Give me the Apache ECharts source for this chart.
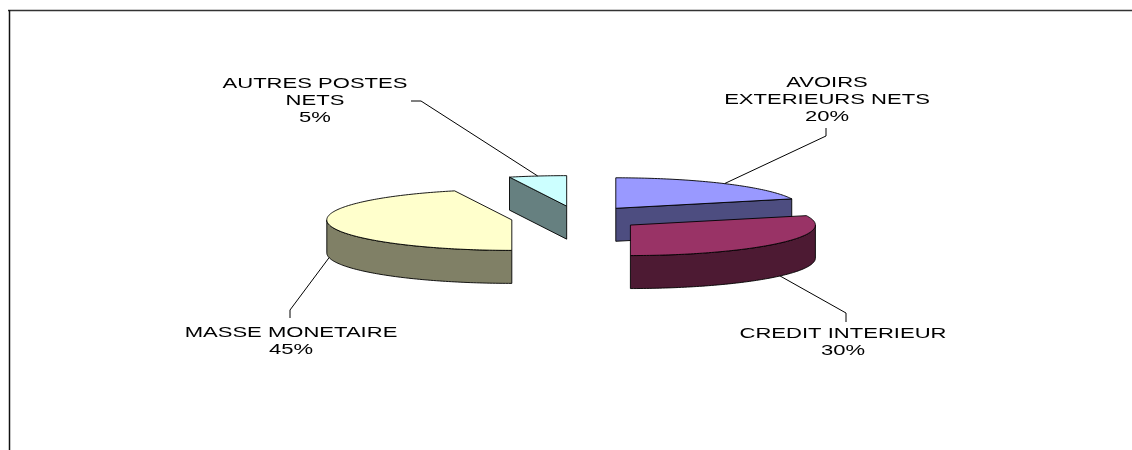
<!DOCTYPE html>
<html><head><meta charset="utf-8">
<script src="https://cdn.jsdelivr.net/npm/echarts@6/dist/echarts.min.js"></script>
<style>html,body{margin:0;padding:0;background:#fff}#c{width:1132px;height:450px}</style>
</head><body><div id="c"></div>
<script>
// ---- data ----
const categories = ['AVOIRS EXTERIEURS NETS', 'CREDIT INTERIEUR', 'MASSE MONETAIRE', 'AUTRES POSTES NETS'];
const labelTexts = ['AVOIRS\nEXTERIEURS NETS', 'CREDIT INTERIEUR', 'MASSE MONETAIRE', 'AUTRES POSTES\nNETS'];
const values = [20, 30, 45, 5];

// ---- styles / layout (not data) ----
const topColors = ['#9999FF', '#993366', '#FFFFCC', '#CCFFFF'];
const sideColors = ['#4D4D80', '#4D1A33', '#808066', '#668080'];
const geo = { cx: 577, cy: 218, rx: 185, ry: 30.5, depth: 33, ex: 66, ey: 12 };
const labelLayout = [
  { x: 827, y: 100, near: [826, 128], elbow: [826, 136] },
  { x: 843, y: 342, near: [846, 322], elbow: [846, 313] },
  { x: 291, y: 341, near: [290, 318], elbow: [290, 310] },
  { x: 315, y: 101, near: [411, 101], elbow: [421, 101] }
];

const total = values.reduce((s, v) => s + v, 0);
const rad = d => d * Math.PI / 180;

function renderItem(params, api) {
  const i = params.dataIndex;
  const v = api.value(0);
  let before = 0;
  for (let k = 0; k < i; k++) before += values[k];
  const a = before / total * 360, b = (before + v) / total * 360, m = (a + b) / 2;
  const px = geo.cx + geo.ex * Math.sin(rad(m));
  const py = geo.cy - geo.ey * Math.cos(rad(m));
  const pt = (t, d) => [px + geo.rx * Math.sin(rad(t)), py - geo.ry * Math.cos(rad(t)) + d];
  const arc = (t1, t2, d) => {
    const pts = [], n = Math.max(2, Math.ceil(Math.abs(t2 - t1)));
    for (let s = 0; s <= n; s++) pts.push(pt(t1 + (t2 - t1) * s / n, d));
    return pts;
  };
  const base = Math.round(-Math.cos(rad(m)) * 100);
  const stroke = { stroke: '#000', lineWidth: 0.9 };
  const children = [];
  const D = geo.depth;
  // radial faces (only those facing the viewer)
  if (Math.sin(rad(a)) < -1e-6) {
    const r = pt(a, 0), rb = pt(a, D);
    children.push({ type: 'polygon', z2: base, shape: { points: [[px, py], r, rb, [px, py + D]] }, style: Object.assign({ fill: sideColors[i] }, stroke) });
  }
  if (Math.sin(rad(b)) > 1e-6) {
    const r = pt(b, 0), rb = pt(b, D);
    children.push({ type: 'polygon', z2: base, shape: { points: [[px, py], r, rb, [px, py + D]] }, style: Object.assign({ fill: sideColors[i] }, stroke) });
  }
  // front wall
  const t1 = Math.max(a, 90), t2 = Math.min(b, 270);
  if (t2 > t1) {
    const pts = arc(t1, t2, 0).concat(arc(t2, t1, D));
    children.push({ type: 'polygon', z2: base + 1, shape: { points: pts }, style: Object.assign({ fill: sideColors[i] }, stroke) });
  }
  // top face
  children.push({ type: 'polygon', z2: base + 2, shape: { points: [[px, py]].concat(arc(a, b, 0)) }, style: Object.assign({ fill: topColors[i] }, stroke) });
  // leader line
  const front = Math.cos(rad(m)) < 0;
  const anchor = pt(m, front ? D : 0);
  const L = labelLayout[i];
  children.push({ type: 'polyline', z2: 400, shape: { points: [anchor, L.elbow, L.near] }, style: { stroke: '#000', lineWidth: 1, fill: null } });
  // label
  const pct = Math.round(v / total * 100) + '%';
  children.push({
    type: 'text', z2: 500, x: L.x, y: L.y, scaleX: 1.52,
    style: { text: labelTexts[i] + '\n' + pct, fill: '#000', fontSize: 14.5, fontFamily: '"Liberation Sans", Arial, sans-serif', align: 'center', verticalAlign: 'middle', lineHeight: 17 }
  });
  return { type: 'group', children };
}

const chart = echarts.init(document.getElementById('c'), null, { renderer: 'canvas' });
chart.setOption({
  animation: false,
  backgroundColor: '#fff',
  graphic: [
    { type: 'line', shape: { x1: 8, y1: 10.5, x2: 1132, y2: 10.5 }, style: { stroke: '#333', lineWidth: 1.5 } },
    { type: 'line', shape: { x1: 9.5, y1: 10, x2: 9.5, y2: 450 }, style: { stroke: '#111', lineWidth: 1.5 } }
  ],
  series: [{
    type: 'custom',
    coordinateSystem: 'none',
    renderItem: renderItem,
    data: values.map((v, i) => ({ name: categories[i], value: [v] }))
  }]
});
</script>
</body></html>
